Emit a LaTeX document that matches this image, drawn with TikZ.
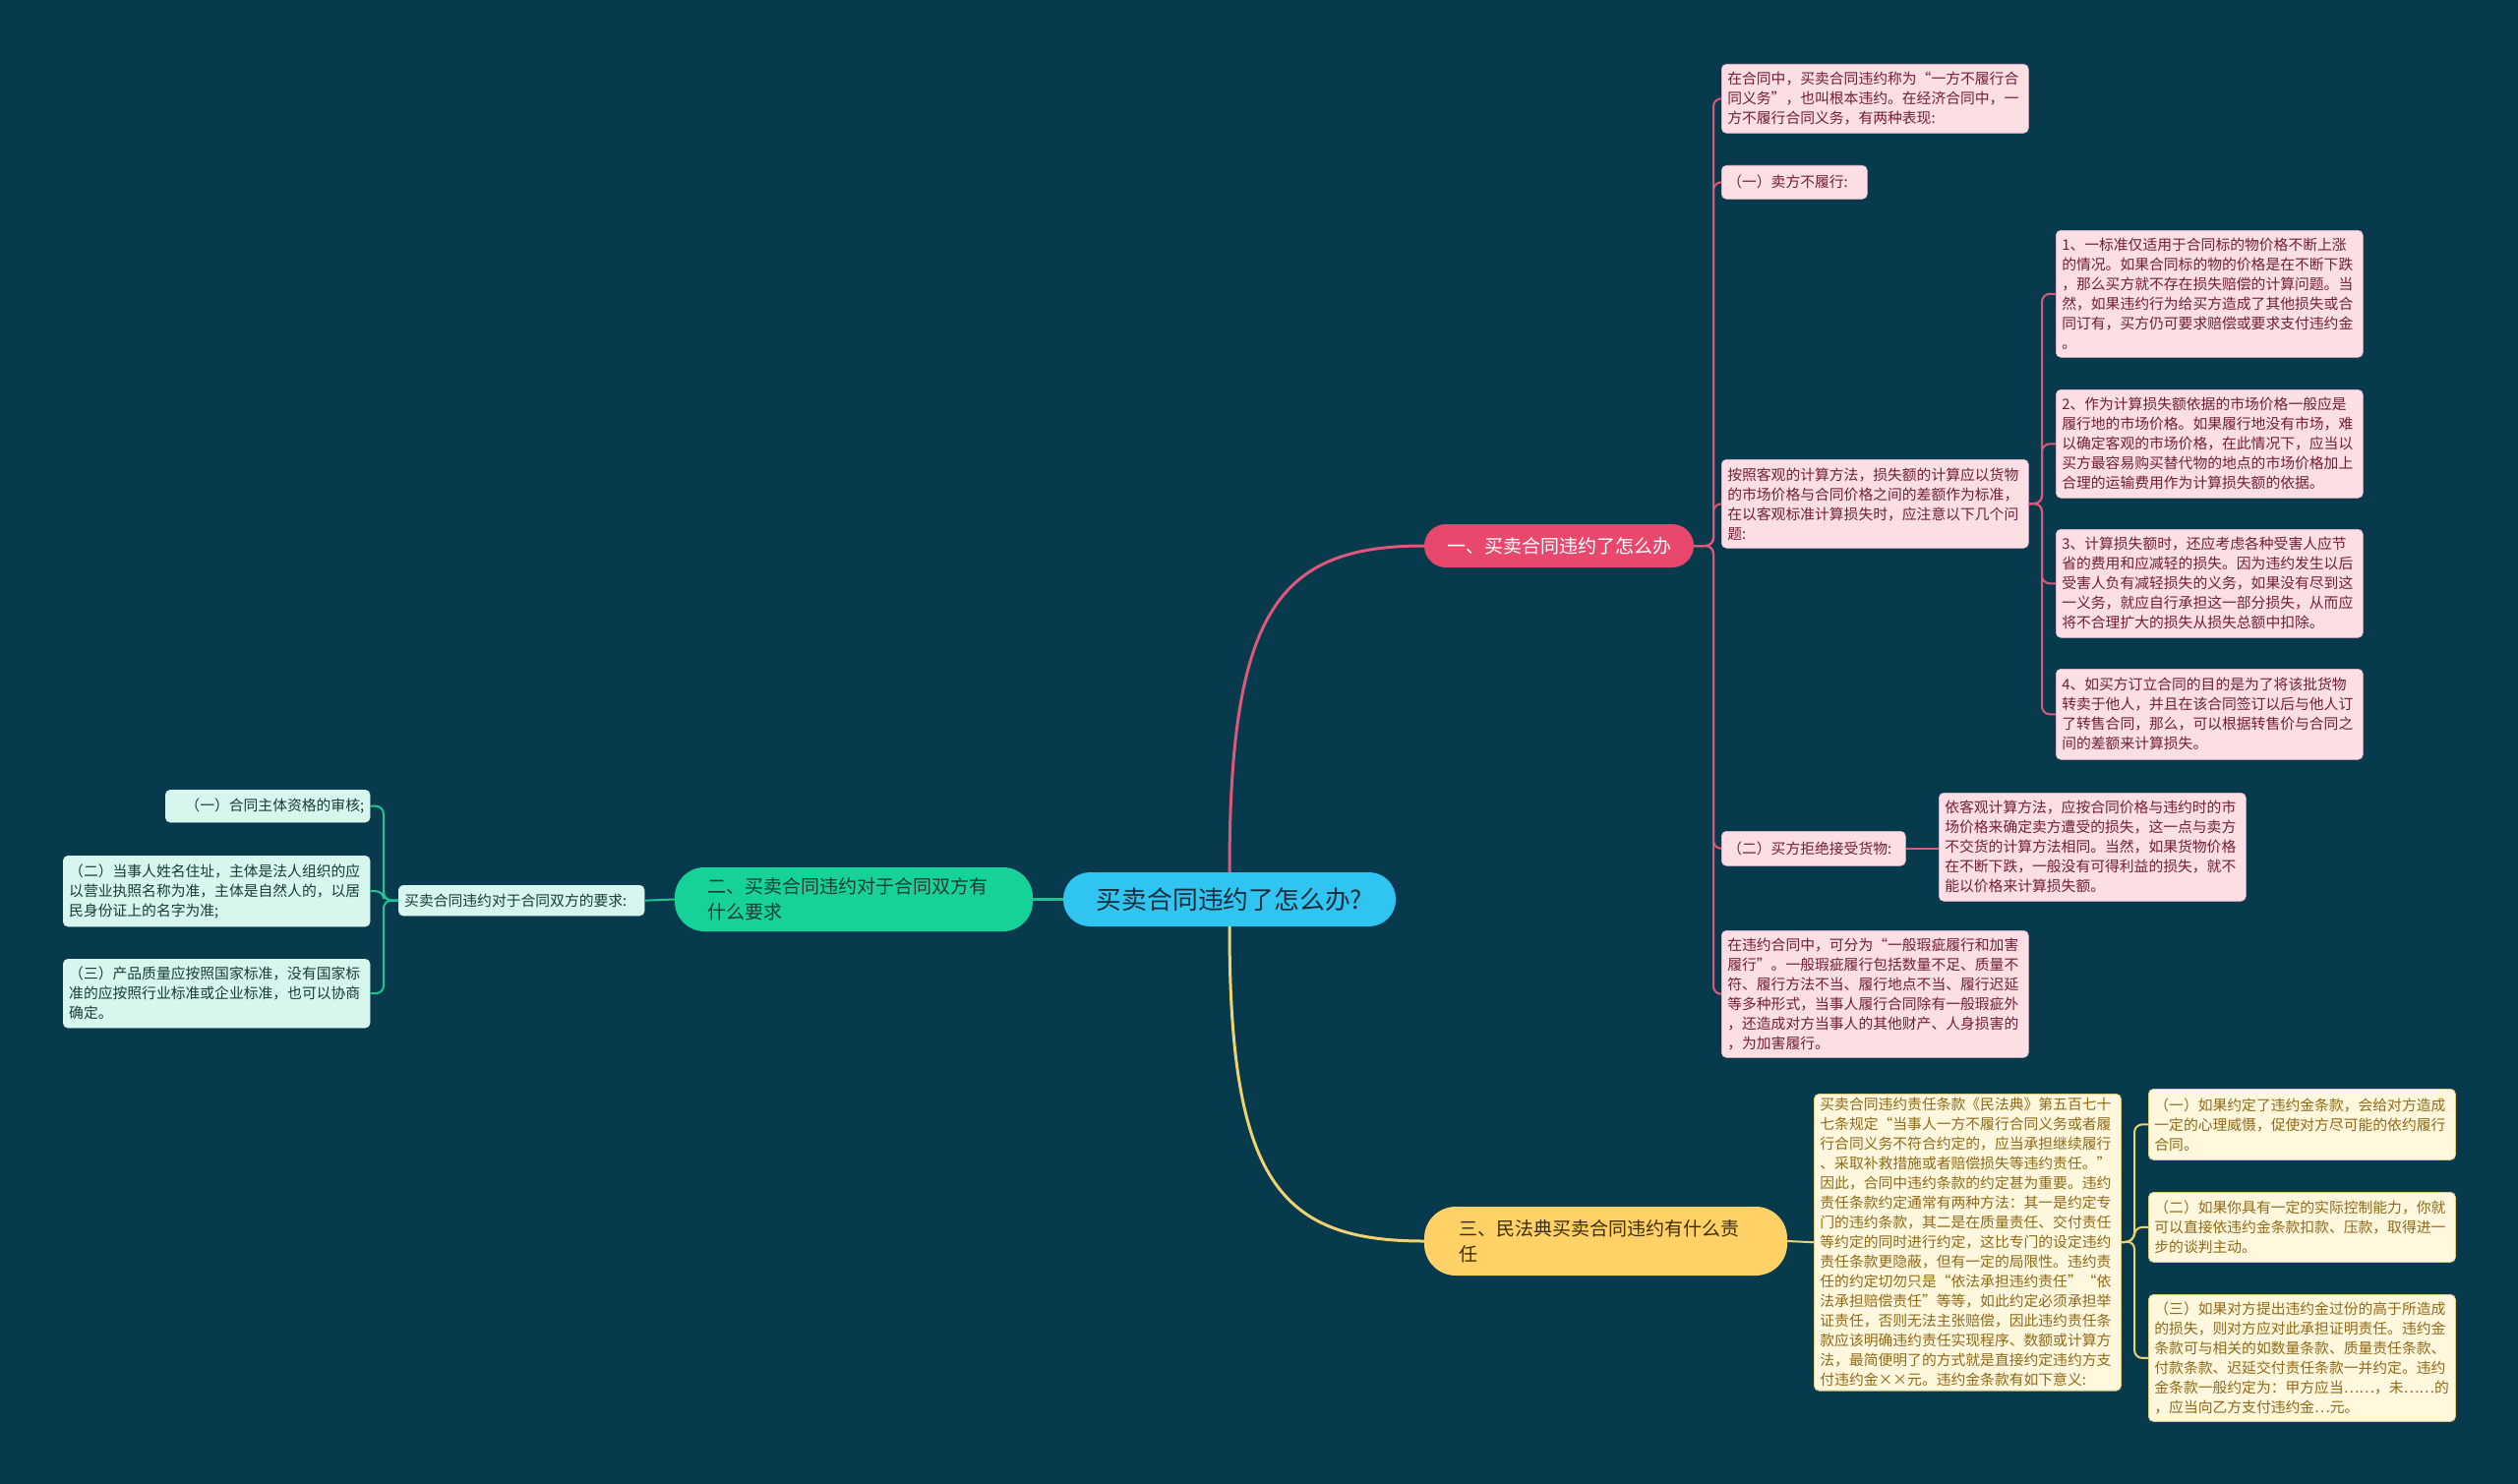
\documentclass[tikz,border=0pt]{standalone}
\usepackage{fontspec}
\setmainfont{Noto Sans CJK SC}
\definecolor{bg}{RGB}{8,58,77}
\definecolor{cyanc}{RGB}{48,196,240}
\definecolor{ctext}{RGB}{25,45,60}
\definecolor{pinkmain}{RGB}{232,72,108}
\definecolor{pinkline}{RGB}{222,88,122}
\definecolor{pinkbg}{RGB}{252,222,229}
\definecolor{pinkbd}{RGB}{240,190,205}
\definecolor{pinktxt}{RGB}{115,30,52}
\definecolor{greenmain}{RGB}{22,210,152}
\definecolor{greenline}{RGB}{30,196,146}
\definecolor{greenbg}{RGB}{214,246,238}
\definecolor{greentxt}{RGB}{25,60,52}
\definecolor{yelmain}{RGB}{255,209,102}
\definecolor{yelline}{RGB}{240,210,110}
\definecolor{yelbg}{RGB}{255,247,222}
\definecolor{yelbd}{RGB}{230,200,120}
\definecolor{yeltxt}{RGB}{145,105,20}
\definecolor{yeldark}{RGB}{60,45,10}
\newcommand\leafbox[6]{\node[#1,anchor=north west,text width=300pt,minimum height=#5pt] (#2) at (#3,#4) {#6};}
\begin{document}
\begin{tikzpicture}[x=1pt,y=-1pt,
  leaf/.style={rounded corners=5pt,inner xsep=6pt,inner ysep=4pt,align=left,font=\fontsize{14.8}{20}\selectfont},
  pinkleaf/.style={leaf,fill=pinkbg,draw=pinkbd,line width=0.6pt,text=pinktxt},
  greenleaf/.style={leaf,fill=greenbg,draw=greenbg,text=greentxt},
  yelleaf/.style={leaf,fill=yelbg,draw=yelbd,line width=0.8pt,text=yeltxt},
  mainnode/.style={font=\fontsize{19}{26}\selectfont,inner sep=0pt},
  pl/.style={draw=pinkline,line width=2pt,rounded corners=8pt},
  gl/.style={draw=greenline,line width=2pt,rounded corners=8pt},
  yl/.style={draw=yelline,line width=2pt,rounded corners=8pt}]
\fill[bg] (0,0) rectangle (2560,1509);
\useasboundingbox (0,0) rectangle (2560,1509);

% main nodes
\node[fill=cyanc,text=ctext,rounded corners=27pt,minimum width=338pt,minimum height=55pt,inner sep=0pt,font=\fontsize{25.8}{28}\selectfont] (c) at (1250,914.5) {买卖合同违约了怎么办?};
\node[mainnode,fill=pinkmain,text=white,rounded corners=22pt,minimum width=274pt,minimum height=44pt] (n1) at (1585,555) {一、买卖合同违约了怎么办};
\node[mainnode,fill=greenmain,text=greentxt,rounded corners=30pt,minimum width=364pt,minimum height=65pt,inner xsep=33pt,text width=298pt,align=left] (n2) at (868,914.5) {二、买卖合同违约对于合同双方有\\什么要求};
\node[mainnode,fill=yelmain,text=yeldark,rounded corners=32pt,minimum width=369pt,minimum height=70pt,inner xsep=35pt,text width=299pt,align=left] (n3) at (1632.5,1262) {三、民法典买卖合同违约有什么责\\任};

% branch 1
\leafbox{pinkleaf}{A}{1750}{65}{70}{在合同中，买卖合同违约称为“一方不履行合\\同义务”，也叫根本违约。在经济合同中，一\\方不履行合同义务，有两种表现:}
\node[pinkleaf,anchor=north west,text width=136pt,minimum height=34pt] (B) at (1750,168) {（一）卖方不履行:};
\leafbox{pinkleaf}{C}{1750}{467}{90}{按照客观的计算方法，损失额的计算应以货物\\的市场价格与合同价格之间的差额作为标准，\\在以客观标准计算损失时，应注意以下几个问\\题:}
\leafbox{pinkleaf}{C1}{2090}{234}{129}{1、一标准仅适用于合同标的物价格不断上涨\\的情况。如果合同标的物的价格是在不断下跌\\，那么买方就不存在损失赔偿的计算问题。当\\然，如果违约行为给买方造成了其他损失或合\\同订有，买方仍可要求赔偿或要求支付违约金\\。}
\leafbox{pinkleaf}{C2}{2090}{396}{110}{2、作为计算损失额依据的市场价格一般应是\\履行地的市场价格。如果履行地没有市场，难\\以确定客观的市场价格，在此情况下，应当以\\买方最容易购买替代物的地点的市场价格加上\\合理的运输费用作为计算损失额的依据。}
\leafbox{pinkleaf}{C3}{2090}{538}{110}{3、计算损失额时，还应考虑各种受害人应节\\省的费用和应减轻的损失。因为违约发生以后\\受害人负有减轻损失的义务，如果没有尽到这\\一义务，就应自行承担这一部分损失，从而应\\将不合理扩大的损失从损失总额中扣除。}
\leafbox{pinkleaf}{C4}{2090}{680}{92}{4、如买方订立合同的目的是为了将该批货物\\转卖于他人，并且在该合同签订以后与他人订\\了转售合同，那么，可以根据转售价与合同之\\间的差额来计算损失。}
\node[pinkleaf,anchor=north west,text width=175pt,minimum height=35pt] (D) at (1750,845) {（二）买方拒绝接受货物:};
\leafbox{pinkleaf}{E}{1971}{806}{110}{依客观计算方法，应按合同价格与违约时的市\\场价格来确定卖方遭受的损失，这一点与卖方\\不交货的计算方法相同。当然，如果货物价格\\在不断下跌，一般没有可得利益的损失，就不\\能以价格来计算损失额。}
\leafbox{pinkleaf}{F}{1750}{946}{129}{在违约合同中，可分为“一般瑕疵履行和加害\\履行”。一般瑕疵履行包括数量不足、质量不\\符、履行方法不当、履行地点不当、履行迟延\\等多种形式，当事人履行合同除有一般瑕疵外\\，还造成对方当事人的其他财产、人身损害的\\，为加害履行。}

% branch 3
\leafbox{yelleaf}{G}{1844}{1112}{300}{买卖合同违约责任条款《民法典》第五百七十\\七条规定“当事人一方不履行合同义务或者履\\行合同义务不符合约定的，应当承担继续履行\\、采取补救措施或者赔偿损失等违约责任。”\\因此，合同中违约条款的约定甚为重要。违约\\责任条款约定通常有两种方法：其一是约定专\\门的违约条款，其二是在质量责任、交付责任\\等约定的同时进行约定，这比专门的设定违约\\责任条款更隐蔽，但有一定的局限性。违约责\\任的约定切勿只是“依法承担违约责任”“依\\法承担赔偿责任”等等，如此约定必须承担举\\证责任，否则无法主张赔偿，因此违约责任条\\款应该明确违约责任实现程序、数额或计算方\\法，最简便明了的方式就是直接约定违约方支\\付违约金××元。违约金条款有如下意义:}
\leafbox{yelleaf}{H1}{2184}{1107}{72}{（一）如果约定了违约金条款，会给对方造成\\一定的心理威慑，促使对方尽可能的依约履行\\合同。}
\leafbox{yelleaf}{H2}{2184}{1212}{71}{（二）如果你具有一定的实际控制能力，你就\\可以直接依违约金条款扣款、压款，取得进一\\步的谈判主动。}
\leafbox{yelleaf}{H3}{2184}{1316}{129}{（三）如果对方提出违约金过份的高于所造成\\的损失，则对方应对此承担证明责任。违约金\\条款可与相关的如数量条款、质量责任条款、\\付款条款、迟延交付责任条款一并约定。违约\\金条款一般约定为：甲方应当……，未……的\\，应当向乙方支付违约金…元。}

% branch 2
\node[greenleaf,anchor=north west,text width=238pt,minimum height=31pt] (M) at (405,900) {买卖合同违约对于合同双方的要求:};
\node[greenleaf,anchor=north west,text width=196pt,minimum height=33pt,align=right] (L1) at (168,803) {（一）合同主体资格的审核;};
\leafbox{greenleaf}{L2}{64}{870}{72}{（二）当事人姓名住址，主体是法人组织的应\\以营业执照名称为准，主体是自然人的，以居\\民身份证上的名字为准;}
\leafbox{greenleaf}{L3}{64}{975}{70}{（三）产品质量应按照国家标准，没有国家标\\准的应按照行业标准或企业标准，也可以协商\\确定。}

% main connectors
\draw[draw=pinkline,line width=3pt] (c.north) .. controls (1250,620) and (1300,555) .. (n1.west);
\draw[draw=yelline,line width=3pt] (c.south) .. controls (1250,1200) and (1300,1262) .. (n3.west);
\draw[draw=greenline,line width=3pt] (c.west) -- (n2.east);

% branch connectors
\foreach \t in {A,B,C,D,F} \draw[pl] (n1.east) -- (1742,555) |- (\t.west);
\foreach \t in {C1,C2,C3,C4} \draw[pl] (C.east) -- (2076,512) |- (\t.west);
\draw[pl] (D.east) -- (E.west |- D.east);
\draw[yl] (n3.east) -- (G.west);
\foreach \t in {H1,H2,H3} \draw[yl] (G.east) -- (2170,1262) |- (\t.west);
\draw[gl] (n2.west) -- (M.east);
\foreach \t in {L1,L2,L3} \draw[gl] (M.west) -- (390,915.5) |- (\t.east);
\end{tikzpicture}
\end{document}
